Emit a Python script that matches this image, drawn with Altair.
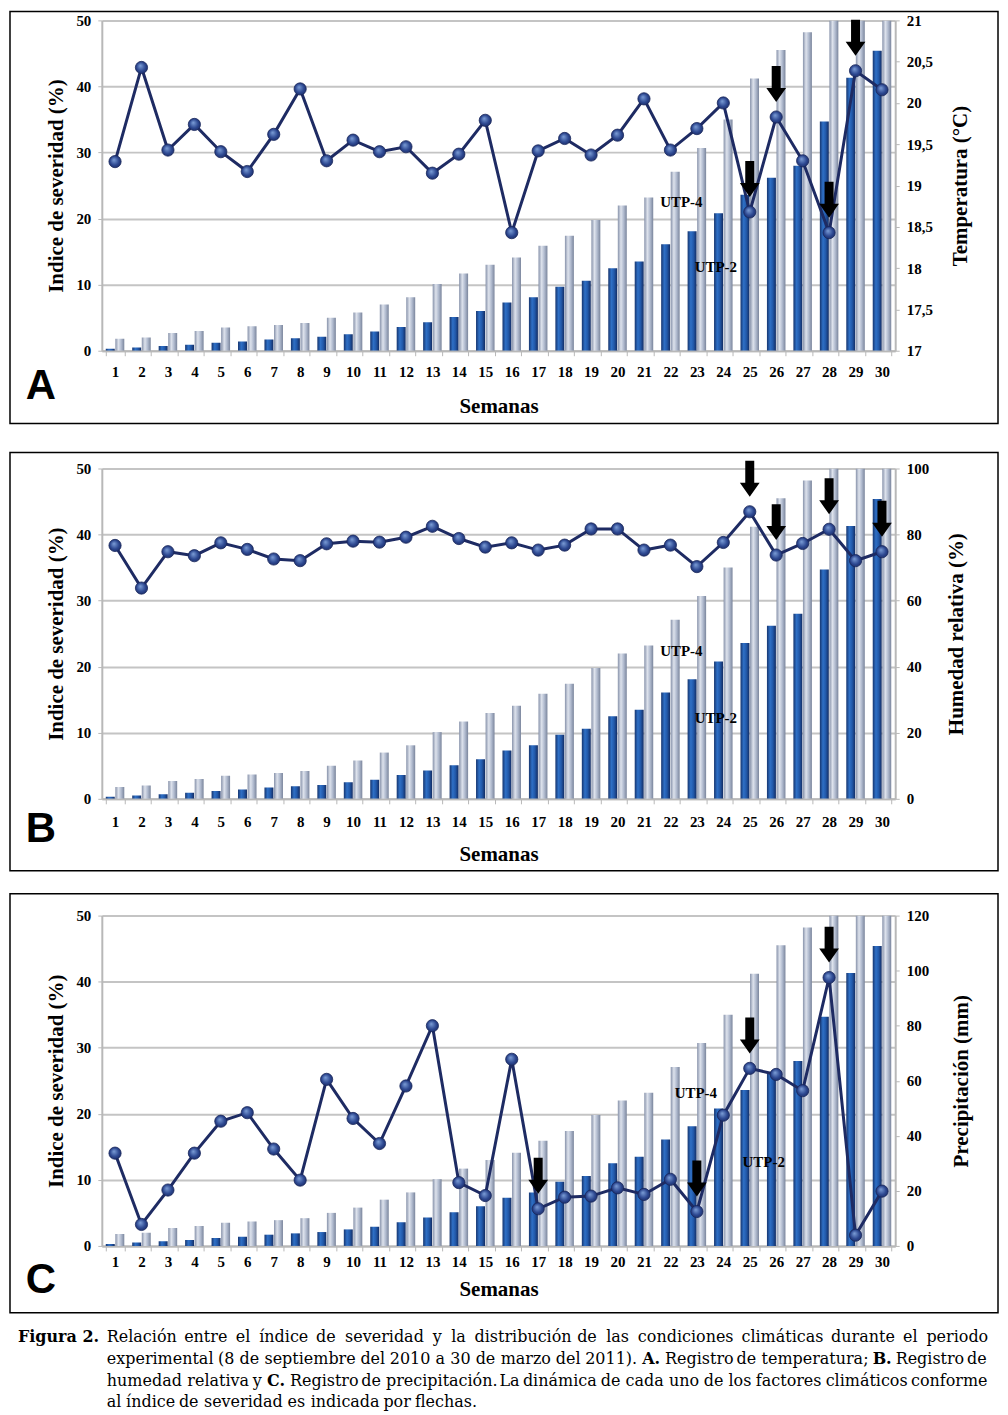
import altair as alt
import pandas as pd

# ---------------- data ----------------
weeks = list(range(1, 31))
series_names = ["UTP-2", "UTP-4"]
utp2 = [0.3, 0.5, 0.7, 0.9, 1.2, 1.4, 1.7, 1.9, 2.1, 2.5, 2.9, 3.6, 4.3, 5.1, 6.0,
        7.3, 8.1, 9.7, 10.6, 12.5, 13.5, 16.1, 18.1, 20.8, 23.6, 26.2, 28.0, 34.7, 41.3, 45.4]
utp4 = [1.8, 2.0, 2.7, 3.0, 3.5, 3.7, 3.9, 4.2, 5.0, 5.8, 7.0, 8.1, 10.1, 11.7, 13.0,
        14.1, 15.9, 17.4, 19.8, 22.0, 23.2, 27.1, 30.7, 35.0, 41.2, 45.5, 48.2, 50, 50, 50]
temperatura = [19.29, 20.43, 19.43, 19.74, 19.41, 19.17, 19.62, 20.17, 19.30, 19.55,
               19.41, 19.47, 19.15, 19.38, 19.79, 18.43, 19.42, 19.57, 19.37, 19.61,
               20.05, 19.43, 19.69, 20.00, 18.68, 19.83, 19.30, 18.43, 20.39, 20.16]
humedad = [76.7, 63.8, 74.8, 73.6, 77.5, 75.5, 72.6, 72.1, 77.2, 78.0,
           77.7, 79.2, 82.5, 78.8, 76.2, 77.5, 75.3, 76.8, 81.7, 81.7,
           75.3, 76.8, 70.3, 77.6, 86.9, 73.8, 77.3, 81.6, 72.1, 74.8]
precipitacion = [33.7, 7.8, 20.3, 33.7, 45.3, 48.4, 35.2, 23.9, 60.5, 46.3,
                 37.2, 58.1, 80.0, 23.0, 18.3, 67.8, 13.5, 17.7, 18.1, 21.1,
                 18.7, 24.2, 12.5, 47.5, 64.5, 62.3, 56.4, 97.5, 3.9, 19.9]
arrows_a = [25, 26, 28, 29]
arrows_b = [25, 26, 28, 30]
arrows_c = [17, 23, 25, 28]
sev_ticks = list(range(0, 51, 5))
temp_ticks = [17, 17.5, 18, 18.5, 19, 19.5, 20, 20.5, 21]
hum_ticks = list(range(0, 101, 10))
prec_ticks = list(range(0, 121, 20))

# annotation labels: (text, week, sev)
ann_a = [("UTP-4", 22, 22.5), ("UTP-2", 23, 12.7)]
ann_b = [("UTP-4", 22, 22.4), ("UTP-2", 23, 12.2)]
ann_c = [("UTP-4", 23, 23.1), ("UTP-2", 25, 12.7)]

caption_label = "Figura 2."
caption_lines = [
    [("Relación entre el índice de severidad y la distribución de las condiciones climáticas durante el periodo", False)],
    [("experimental (8 de septiembre del 2010 a 30 de marzo del 2011).", False), ("A.", True),
     ("Registro de temperatura;", False), ("B.", True), ("Registro de", False)],
    [("humedad relativa y", False), ("C.", True),
     ("Registro de precipitación. La dinámica de cada uno de los factores climáticos conforme", False)],
    [("al índice de severidad es indicada por flechas.", False)],
]

# ---------------- style ----------------
W, H = 795, 331
SERIF = "Liberation Serif"
GRID = "#c4c4c4"
AXC = "#b8b8b8"
NAVY = "#1e2b63"
blue_grad = {"gradient": "linear", "x1": 0, "y1": 0, "x2": 1, "y2": 0,
             "stops": [{"offset": 0, "color": "#16356f"}, {"offset": 0.35, "color": "#2f70c6"},
                       {"offset": 0.65, "color": "#2259aa"}, {"offset": 1, "color": "#132c63"}]}
grey_grad = {"gradient": "linear", "x1": 0, "y1": 0, "x2": 1, "y2": 0,
             "stops": [{"offset": 0, "color": "#8792aa"}, {"offset": 0.35, "color": "#dde2ec"},
                       {"offset": 0.65, "color": "#b1bbcf"}, {"offset": 1, "color": "#7a859c"}]}
dot_grad = {"gradient": "radial", "x1": 0.4, "y1": 0.35, "r1": 0, "x2": 0.5, "y2": 0.5, "r2": 0.6,
            "stops": [{"offset": 0, "color": "#7d9fd8"}, {"offset": 0.6, "color": "#2c4790"},
                      {"offset": 1, "color": "#1a2960"}]}
ARROW = "M-0.25,-1L0.25,-1L0.25,0.22L0.55,0.22L0,1L-0.55,0.22L-0.25,0.22Z"
BOX_LEFT = -92
BOX_RIGHT = 898
LABEL_DX = {("UTP-4", 22): 11, ("UTP-2", 23): 19, ("UTP-4", 23): -1, ("UTP-2", 25): 14}

one = pd.DataFrame({"k": [0]})

# ---------------- caption (justified, word by word) ----------------
REG = {'a': 1255, 'b': 1300, 'c': 1126, 'd': 1300, 'e': 1260, 'f': 721, 'g': 1300, 'h': 1298,
       'i': 569, 'j': 569, 'k': 1186, 'l': 569, 'm': 1995, 'n': 1298, 'o': 1253, 'p': 1300,
       'q': 1300, 'r': 842, 's': 1067, 't': 803, 'u': 1298, 'v': 1212, 'w': 1675, 'x': 1212,
       'y': 1212, 'z': 1075, ' ': 651, '.': 651, ',': 651, ';': 690, '(': 799, ')': 799,
       '-': 739, 'R': 1423, 'L': 1141, 'A': 1401, 'B': 1405, 'C': 1430, 'F': 1178}
ACC = {'á': 'a', 'é': 'e', 'í': 'i', 'ó': 'o', 'ú': 'u'}
CAP_SIZE = 16


def tw(s, bold):
    tot = 0
    for ch in s:
        ch = ACC.get(ch, ch)
        tot += 1303 if ch.isdigit() else REG.get(ch, 1250)
    return tot / 2048 * CAP_SIZE * (1.12 if bold else 1.0)


# positions relative to the plot area of panel C
X0, X1 = 5, 887
rows = [(caption_label, -84, 422, True)]
line_y = [422, 444, 466, 487]
for i, (segs, yy) in enumerate(zip(caption_lines, line_y)):
    words = [(w, b) for s, b in segs for w in s.split(" ")]
    widths = [tw(w, b) for w, b in words]
    if i < len(caption_lines) - 1:
        gap = (X1 - X0 - sum(widths)) / (len(words) - 1)
    else:
        gap = tw(" ", False)
    xx = X0
    for (w, b), wd in zip(words, widths):
        rows.append((w, xx, yy, b))
        xx += wd + gap
cap = pd.DataFrame(rows, columns=["word", "px", "py", "bold"])


def caption_layers():
    out = []
    for bold in [False, True]:
        out.append(
            alt.Chart(cap).transform_filter(alt.datum.bold == bold)
            .mark_text(font="DejaVu Serif", fontSize=CAP_SIZE, fontWeight="bold" if bold else "normal",
                       color="black", align="left", baseline="middle")
            .encode(x=alt.X("px:Q", scale=None, axis=None), y=alt.Y("py:Q", scale=None, axis=None),
                    text="word:N"))
    return out


def panel(letter, clim, clim_title, domain, ticks, arrows, ann, box_top, box_bottom, extra,
          label_pad, title_pad, rtitle_pad, letter_y, label_expr=None, with_caption=False):
    df = pd.DataFrame({"week": weeks, "UTP-2": utp2, "UTP-4": utp4, "clim": clim})
    long = df.melt(id_vars=["week"], value_vars=series_names, var_name="series", value_name="sev")

    x = alt.X("week:O", sort=weeks,
              scale=alt.Scale(paddingInner=0.3, paddingOuter=0.15),
              axis=alt.Axis(title="Semanas", labelAngle=0, tickBand="extent", grid=False,
                            domainColor=AXC, domainWidth=2, tickColor=AXC, tickSize=5,
                            labelPadding=label_pad, titlePadding=title_pad, labelOverlap=False))
    xoff = alt.XOffset("series:N", scale=alt.Scale(domain=series_names, paddingInner=0.06))
    y_sev = alt.Y("sev:Q", scale=alt.Scale(domain=[0, 50]),
                  axis=alt.Axis(title="Indice de severidad (%)", values=sev_ticks, grid=True,
                                gridColor=GRID, gridWidth=2, domainColor=AXC, domainWidth=2,
                                tickColor=AXC, tickSize=4, labelPadding=7, titlePadding=9,
                                labelOverlap=False))

    layers = []
    layers.append(alt.Chart(one).mark_rect(filled=False, stroke="black", strokeWidth=1.5)
                  .encode(x=alt.value(BOX_LEFT), x2=alt.value(BOX_RIGHT), y=alt.value(box_top),
                          y2=alt.value(box_bottom)))
    if extra:
        # transparent spacer below the frame (controls the gap to the next panel)
        layers.append(alt.Chart(one).mark_rect(opacity=0)
                      .encode(x=alt.value(0), x2=alt.value(10), y=alt.value(box_bottom),
                              y2=alt.value(box_bottom + extra)))
    for name, grad in zip(series_names, [blue_grad, grey_grad]):
        layers.append(alt.Chart(long).transform_filter(alt.datum.series == name)
                      .mark_bar(color=grad, clip=True)
                      .encode(x=x, xOffset=xoff, y=y_sev))
    for text, wk, sv in ann:
        adf = pd.DataFrame({"week": [wk], "sev": [sv], "label": [text]})
        layers.append(alt.Chart(adf).mark_text(font=SERIF, fontWeight="bold", fontSize=15, color="black",
                                               dx=LABEL_DX[(text, wk)])
                      .encode(x=alt.X("week:O", sort=weeks), y="sev:Q", text="label:N"))
    layers.append(alt.Chart(one).mark_text(text=letter, font="Liberation Sans", fontWeight="bold",
                                           fontSize=42, color="black", align="center", baseline="middle")
                  .encode(x=alt.value(-61), y=alt.value(letter_y)))
    if with_caption:
        layers.extend(caption_layers())
    left = alt.layer(*layers)

    axis_r = dict(title=clim_title, orient="right", values=ticks, grid=False, domainColor=AXC,
                  domainWidth=2, tickColor=AXC, tickSize=4, labelPadding=7, titlePadding=rtitle_pad,
                  titleAngle=270, titleBaseline="top", labelOverlap=False)
    if label_expr:
        axis_r["labelExpr"] = label_expr
    y_clim = alt.Y("clim:Q", scale=alt.Scale(domain=domain), axis=alt.Axis(**axis_r))
    base = alt.Chart(df)
    line = base.mark_line(color=NAVY, strokeWidth=3).encode(x=alt.X("week:O", sort=weeks), y=y_clim)
    dots = base.mark_circle(fill=dot_grad, stroke="#18265a", strokeWidth=0.8, size=150, opacity=1) \
        .encode(x=alt.X("week:O", sort=weeks), y="clim:Q")
    arr = base.transform_filter(alt.FieldOneOfPredicate(field="week", oneOf=arrows)) \
        .mark_point(shape=ARROW, filled=True, color="black", size=1296, opacity=1, yOffset=-33) \
        .encode(x=alt.X("week:O", sort=weeks), y="clim:Q")
    right = alt.layer(line, dots, arr)
    return alt.layer(left, right).resolve_scale(y="independent").properties(width=W, height=H)


pA = panel("A", temperatura, "Temperatura (°C)", [17, 21], temp_ticks, arrows_a, ann_a,
           box_top=-9, box_bottom=404, extra=7, label_pad=9, title_pad=16, rtitle_pad=17, letter_y=366,
           label_expr="replace(format(datum.value, '.1~f'), '.', ',')")
pB = panel("B", humedad, "Humedad relativa (%)", [0, 100], hum_ticks, arrows_b, ann_b,
           box_top=-16, box_bottom=403, extra=0, label_pad=11, title_pad=14, rtitle_pad=17, letter_y=361)
pC = panel("C", precipitacion, "Precipitación (mm)", [0, 120], prec_ticks, arrows_c, ann_c,
           box_top=-22, box_bottom=398, extra=0, label_pad=4, title_pad=9, rtitle_pad=22, letter_y=365,
           with_caption=True)

chart = alt.vconcat(pA, pB, pC, spacing=19) \
    .properties(padding={"left": 0, "top": 0, "right": 0, "bottom": 0}) \
    .configure_view(stroke="transparent") \
    .configure_axis(labelFont=SERIF, labelFontWeight="bold", labelFontSize=15, labelColor="black",
                    titleFont=SERIF, titleFontWeight="bold", titleFontSize=21, titleColor="black")

chart.save("out.html", embed_options={"renderer": "svg", "actions": False})
